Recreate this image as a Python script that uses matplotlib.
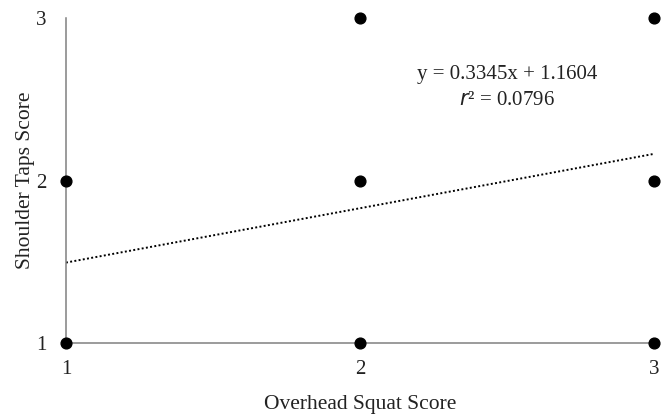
import numpy as np
import matplotlib
matplotlib.use("Agg")
import matplotlib.pyplot as plt

# scores
squat_scores = [1, 1, 2, 2, 2, 3, 3, 3]
taps_scores = [1, 2, 1, 2, 3, 1, 2, 3]
slope = 0.3345
intercept = 1.1604
r_squared = 0.0796
ticks = [1, 2, 3]

plt.rcParams['font.family'] = ['Liberation Serif', 'DejaVu Serif']

fig = plt.figure(figsize=(6.63, 4.15), dpi=100)
ax = fig.add_axes([0.0995, 0.1735, 0.8869, 0.7831])

# trend line
xs = np.array([1, 3])
ax.plot(xs, slope * xs + intercept, color='black', linestyle=(0, (1, 1.2)), linewidth=1.4)

ax.scatter(squat_scores, taps_scores, s=60, color='black', zorder=3, clip_on=False)

ax.set_xlim(1, 3)
ax.set_ylim(1, 3)
ax.set_xticks(ticks)
ax.set_yticks(ticks)
ax.tick_params(length=0, labelsize=15, colors='#222222', pad=12)
ax.tick_params(axis='y', pad=14)
for side in ['top', 'right']:
    ax.spines[side].set_visible(False)
for side in ['left', 'bottom']:
    ax.spines[side].set_color('#808080')
    ax.spines[side].set_linewidth(1.1)

ax.set_xlabel('Overhead Squat Score', fontsize=15.5, color='#222222', labelpad=12)
ax.set_ylabel('Shoulder Taps Score', fontsize=15.5, color='#222222', labelpad=1)

ax.text(2.5, 2.65, f'y = {slope}x + {intercept}', ha='center', va='center',
        fontsize=15, color='#222222')
ax.text(2.5, 2.495, f'$r$² = {r_squared}', ha='center', va='center',
        fontsize=15, color='#222222')

fig.savefig('out.png', dpi=100)
